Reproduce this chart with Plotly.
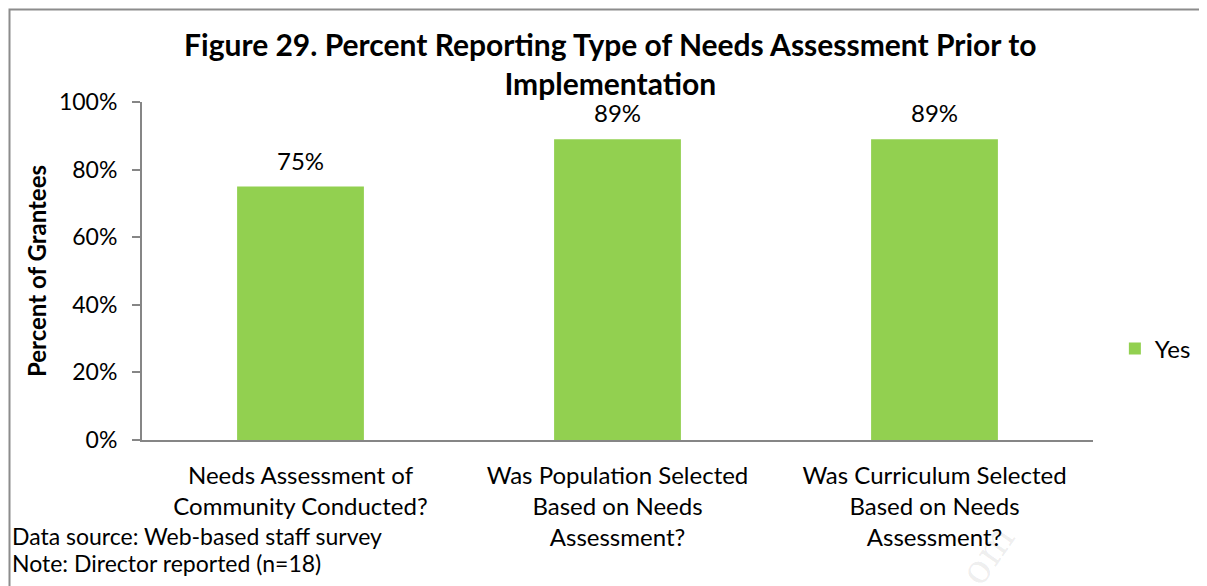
import plotly.graph_objects as go

categories = [
    "Needs Assessment of<br>Community Conducted?",
    "Was Population Selected<br>Based on Needs<br>Assessment?",
    "Was Curriculum Selected<br>Based on Needs<br>Assessment?",
]
yes_values = [75, 89, 89]
value_labels = ["75%", "89%", "89%"]
y_ticks = [0, 20, 40, 60, 80, 100]
y_tick_labels = ["0%", "20%", "40%", "60%", "80%", "100%"]

FONT = "Lato, Carlito, Calibri, sans-serif"
GREEN = "#92D050"
AXIS = "#868686"

# plot-area geometry (figure pixels)
L, T, R, B = 134, 94, 122, 154
PW = 1207 - L - R
PH = 586 - T - B


def px(x):
    return (x - L) / PW


def py(y):
    return (586 - B - y) / PH


fig = go.Figure()
fig.add_trace(go.Bar(
    x=categories, y=yes_values, name="Yes",
    marker=dict(color=GREEN, line=dict(width=0)),
    showlegend=True,
))

for c, v, t in zip(categories, yes_values, value_labels):
    fig.add_annotation(x=c, y=v, text=t, showarrow=False, yanchor="bottom",
                       yshift=10, font=dict(family=FONT, size=24, color="#000"))

fig.update_layout(
    width=1207, height=586,
    margin=dict(l=L, r=R, t=T, b=B),
    paper_bgcolor="white", plot_bgcolor="white",
    font=dict(family=FONT, color="#000"),
    bargap=0.6,
    title=dict(
        text="<b>Figure 29. Percent Reporting Type of Needs Assessment Prior to<br>Implementation</b>",
        x=0.499, xanchor="center", y=0.918, yanchor="top",
        font=dict(family=FONT, size=30, color="#000"),
    ),
    legend=dict(x=1.023, y=py(341), xanchor="left", yanchor="middle",
                font=dict(family=FONT, size=24, color="#000"),
                itemwidth=30, bgcolor="rgba(0,0,0,0)"),
    xaxis=dict(
        showline=True, linecolor=AXIS, linewidth=2, ticks="",
        tickfont=dict(family=FONT, size=24, color="#000"),
        ticklabelstandoff=13, showgrid=False,
    ),
    yaxis=dict(
        range=[0, 100], tickvals=y_ticks, ticktext=y_tick_labels,
        showline=True, linecolor=AXIS, linewidth=2,
        ticks="outside", ticklen=8, tickcolor=AXIS, tickwidth=2,
        tickfont=dict(family=FONT, size=23, color="#000"),
        ticklabelstandoff=10,
        showgrid=False, zeroline=False,
        title=dict(text="<b>Percent of Grantees</b>", standoff=6,
                   font=dict(family=FONT, size=24, color="#000")),
    ),
)

# chart border
fig.add_shape(type="rect", xref="paper", yref="paper",
              x0=px(1.5), x1=px(1300), y0=py(700), y1=py(1.5),
              line=dict(color="#8c8c8c", width=2), layer="below")

# footnotes
fig.add_annotation(xref="paper", yref="paper", x=px(2), y=py(528),
                   xanchor="left", yanchor="middle", showarrow=False,
                   text="Data source: Web-based staff survey",
                   font=dict(family=FONT, size=23, color="#000"))
fig.add_annotation(xref="paper", yref="paper", x=px(2), y=py(555),
                   xanchor="left", yanchor="middle", showarrow=False,
                   text="Note: Director reported (n=18)",
                   font=dict(family=FONT, size=23, color="#000"))
# faint watermark fragment
fig.add_annotation(xref="paper", yref="paper", x=px(1018), y=py(588),
                   showarrow=False, text="om", textangle=-55,
                   font=dict(family="DejaVu Serif", size=40, color="rgba(0,0,0,0.07)"))

fig.write_html("out.html")
